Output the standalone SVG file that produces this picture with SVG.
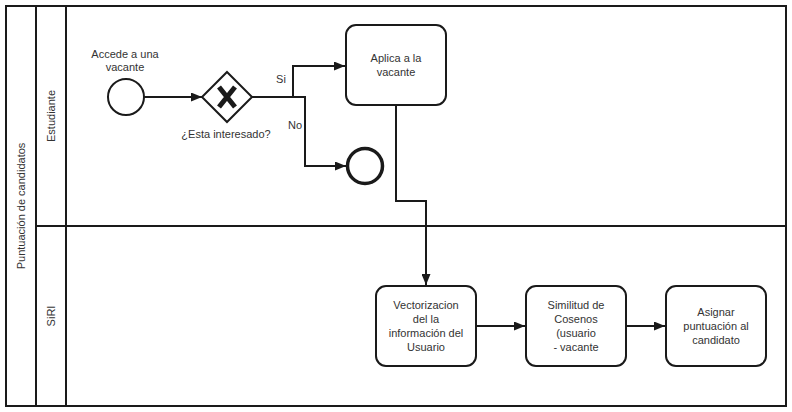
<svg xmlns="http://www.w3.org/2000/svg" width="792" height="412" viewBox="0 0 792 412">
<defs>
<style>
.ln{fill:none;stroke:#1a1a1a;stroke-width:2}
.task{fill:#fff;stroke:#1a1a1a;stroke-width:2}
.t{font-family:"Liberation Sans",Arial,sans-serif;font-size:11px;fill:#333;text-anchor:middle}
.cl{fill:none;stroke:#1a1a1a;stroke-width:2}
</style>
<marker id="ar" viewBox="0 0 10 10" refX="10" refY="5" markerWidth="5.5" markerHeight="4.5" orient="auto" markerUnits="strokeWidth" preserveAspectRatio="none">
<path d="M0,0 L10,5 L0,10 z" fill="#1a1a1a"/>
</marker>
</defs>
<rect x="0" y="0" width="792" height="412" fill="#fff"/>
<g id="pool">
<rect class="ln" x="6" y="6" width="780" height="400"/>
<line class="ln" x1="36" y1="6" x2="36" y2="406"/>
<line class="ln" x1="66" y1="6" x2="66" y2="406"/>
<line class="ln" x1="36" y1="226" x2="786" y2="226"/>
<text class="t" transform="translate(25,206) rotate(-90)">Puntuación de candidatos</text>
<text class="t" transform="translate(55,116) rotate(-90)">Estudiante</text>
<text class="t" transform="translate(55,316) rotate(-90)">SiRI</text>
</g>
<g id="connectors">
<path class="cl" d="M144,97 L202,97" marker-end="url(#ar)"/>
<path class="cl" d="M252,97 L293,97 L293,66 L345,66" marker-end="url(#ar)"/>
<path class="cl" d="M293,97 L305,97 L305,166 L346,166" marker-end="url(#ar)"/>
<path class="cl" d="M396,105 L396,201 L426,201 L426,285" marker-end="url(#ar)"/>
<path class="cl" d="M476,326 L525,326" marker-end="url(#ar)"/>
<path class="cl" d="M626,326 L665,326" marker-end="url(#ar)"/>
<text class="t" x="281" y="83">Si</text>
<text class="t" x="295" y="129">No</text>
</g>
<g id="start">
<circle cx="126" cy="97" r="18" fill="#fff" stroke="#1a1a1a" stroke-width="2"/>
<text class="t" x="125" y="58">Accede a una</text>
<text class="t" x="125" y="71">vacante</text>
</g>
<g id="gateway">
<polygon points="227,72 252,97 227,122 202,97" fill="#fff" stroke="#1a1a1a" stroke-width="2"/>
<path d="M219,87 L235,107 M235,87 L219,107" stroke="#1a1a1a" stroke-width="5" fill="none"/>
<text class="t" x="226" y="138">¿Esta interesado?</text>
</g>
<g id="end">
<circle cx="365" cy="166" r="17.5" fill="#fff" stroke="#1a1a1a" stroke-width="3.5"/>
</g>
<g id="aplica">
<rect class="task" x="346" y="25" width="100" height="80" rx="10"/>
<text class="t" x="396" y="62">Aplica a la</text>
<text class="t" x="396" y="76">vacante</text>
</g>
<g id="vectorizacion">
<rect class="task" x="376" y="286" width="100" height="80" rx="10"/>
<text class="t" x="426" y="309">Vectorizacion</text>
<text class="t" x="426" y="323">del la</text>
<text class="t" x="426" y="337">información del</text>
<text class="t" x="426" y="351">Usuario</text>
</g>
<g id="similitud">
<rect class="task" x="526" y="286" width="100" height="80" rx="10"/>
<text class="t" x="576" y="309">Similitud de</text>
<text class="t" x="576" y="323">Cosenos</text>
<text class="t" x="576" y="337">(usuario</text>
<text class="t" x="576" y="351">- vacante</text>
</g>
<g id="asignar">
<rect class="task" x="666" y="286" width="100" height="80" rx="10"/>
<text class="t" x="716" y="316">Asignar</text>
<text class="t" x="716" y="330">puntuación al</text>
<text class="t" x="716" y="344">candidato</text>
</g>
</svg>
